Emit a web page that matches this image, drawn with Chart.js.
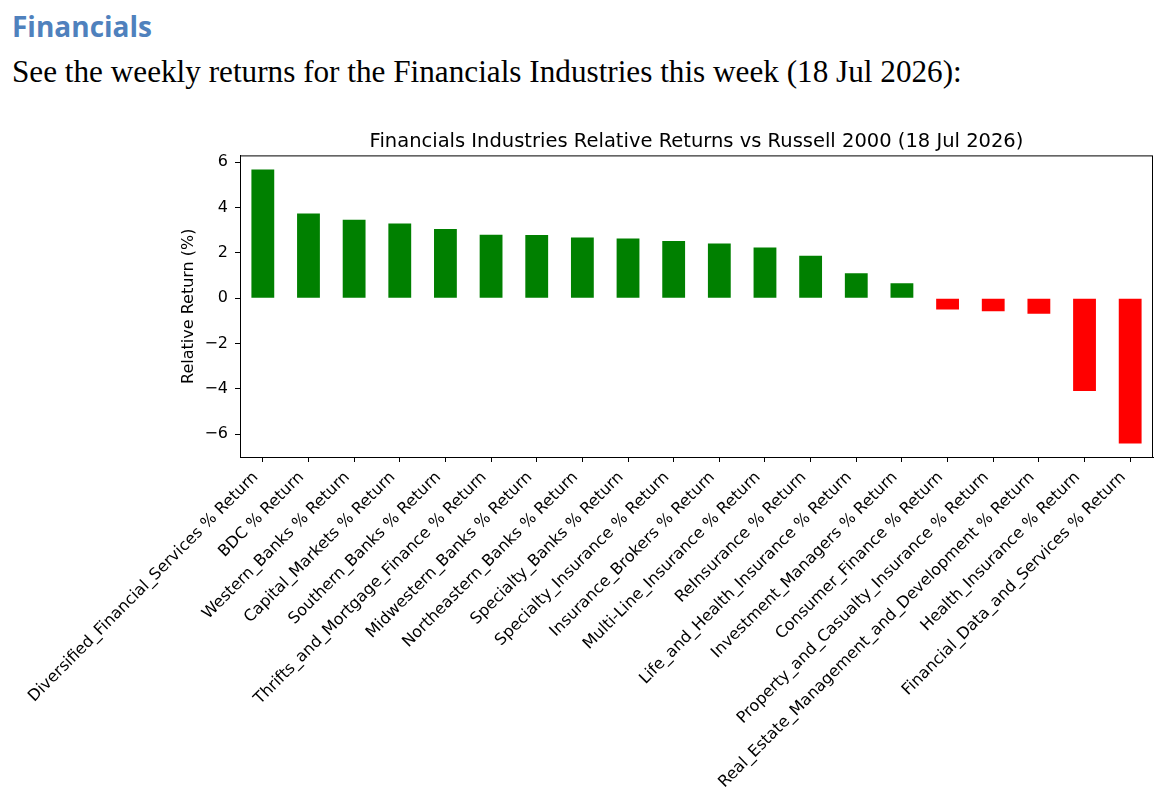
<!DOCTYPE html>
<html>
<head>
<meta charset="utf-8">
<script src="https://cdn.jsdelivr.net/npm/chart.js@4/dist/chart.umd.min.js"></script>
<style>
  html, body { margin: 0; padding: 0; background: #fff; }
  body { width: 1170px; height: 802px; position: relative; overflow: hidden; }
  #heading {
    position: absolute; left: 12px; top: 6px;
    font-family: "Open Sans", sans-serif; font-weight: 700; font-size: 28px;
    color: #4f81bd; line-height: 40px; white-space: nowrap;
  }
  #intro {
    position: absolute; left: 12px; top: 52px;
    font-family: "Liberation Serif", serif; font-size: 28px;
    color: #000; line-height: 40px; white-space: nowrap;
  }
  #wrap { position: absolute; left: 0; top: 100px; width: 1170px; height: 702px; }
</style>
</head>
<body>
<div id="heading">Financials</div>
<div id="intro">See the weekly returns for the Financials Industries this week (18 Jul 2026):</div>
<div id="wrap"><canvas id="returnsChart"></canvas></div>
<script>
// weekly relative returns vs Russell 2000
const industries = [
    'Diversified_Financial_Services % Return',
    'BDC % Return',
    'Western_Banks % Return',
    'Capital_Markets % Return',
    'Southern_Banks % Return',
    'Thrifts_and_Mortgage_Finance % Return',
    'Midwestern_Banks % Return',
    'Northeastern_Banks % Return',
    'Specialty_Banks % Return',
    'Specialty_Insurance % Return',
    'Insurance_Brokers % Return',
    'Multi-Line_Insurance % Return',
    'ReInsurance % Return',
    'Life_and_Health_Insurance % Return',
    'Investment_Managers % Return',
    'Consumer_Finance % Return',
    'Property_and_Casualty_Insurance % Return',
    'Real_Estate_Management_and_Development % Return',
    'Health_Insurance % Return',
    'Financial_Data_and_Services % Return'
];
const relReturns = [5.68, 3.74, 3.46, 3.30, 3.05, 2.80, 2.79, 2.68, 2.63, 2.53,
                    2.41, 2.24, 1.87, 1.10, 0.66, -0.50, -0.57, -0.68, -4.09, -6.40];
const yTicks = [-6, -4, -2, 0, 2, 4, 6];
const yMin = -7.0;
const yMax = 6.3;

// fit the two text lines to the widths they have in the picture
function fitWidth(id, target) {
    const el = document.getElementById(id);
    const size = parseFloat(getComputedStyle(el).fontSize);
    el.style.fontSize = (size * target / el.getBoundingClientRect().width) + 'px';
}
fitWidth('heading', 140);
fitWidth('intro', 950);

const blackLine = '#000000';

// top and right spines, matplotlib style box
const frameBox = {
    id: 'frameBox',
    afterDraw(chart) {
        const { ctx, chartArea } = chart;
        ctx.save();
        ctx.strokeStyle = blackLine;
        ctx.lineWidth = 1;
        ctx.strokeRect(chartArea.left + 0.5, chartArea.top + 0.5,
                       chartArea.right - chartArea.left - 1, chartArea.bottom - chartArea.top);
        ctx.restore();
    }
};

const ctx = document.getElementById('returnsChart').getContext('2d');
new Chart(ctx, {
    type: 'bar',
    data: {
        labels: industries,
        datasets: [{
            data: relReturns,
            backgroundColor: relReturns.map(v => v >= 0 ? '#008000' : '#ff0000'),
            borderWidth: 0,
            barPercentage: 0.5,
            categoryPercentage: 1.0
        }]
    },
    options: {
        responsive: true,
        maintainAspectRatio: false,
        animation: false,
        layout: { padding: { left: 0, right: 17, top: 0, bottom: 0 } },
        plugins: {
            legend: { display: false },
            tooltip: { enabled: false },
            title: {
                display: true,
                fullSize: false,
                text: 'Financials Industries Relative Returns vs Russell 2000 (18 Jul 2026)',
                font: { family: 'DejaVu Sans', size: 19.5, weight: 'normal' },
                color: '#000',
                padding: { top: 30, bottom: 2 }
            }
        },
        scales: {
            x: {
                offset: true,
                grid: { offset: false, drawOnChartArea: false, drawTicks: true, tickLength: 5, color: blackLine },
                border: { display: true, color: blackLine, width: 1 },
                ticks: {
                    autoSkip: false,
                    minRotation: 45,
                    maxRotation: 45,
                    padding: 6,
                    labelOffset: -7,
                    color: '#000',
                    font: { family: 'DejaVu Sans', size: 16 }
                },
                afterFit(scale) { scale.height = 345; }
            },
            y: {
                min: yMin,
                max: yMax,
                afterBuildTicks(scale) { scale.ticks = yTicks.map(v => ({ value: v })); },
                grid: { drawOnChartArea: false, drawTicks: true, tickLength: 5, color: blackLine },
                border: { display: true, color: blackLine, width: 1 },
                ticks: {
                    padding: 7,
                    color: '#000',
                    font: { family: 'DejaVu Sans', size: 16 },
                    callback: v => (v < 0 ? '\u2212' + Math.abs(v) : String(v))
                },
                title: {
                    display: true,
                    text: 'Relative Return (%)',
                    color: '#000',
                    font: { family: 'DejaVu Sans', size: 16 },
                    padding: { top: 179, bottom: 0 }
                },
                afterFit(scale) { scale.width = 240; }
            }
        }
    },
    plugins: [frameBox]
});
</script>
</body>
</html>
